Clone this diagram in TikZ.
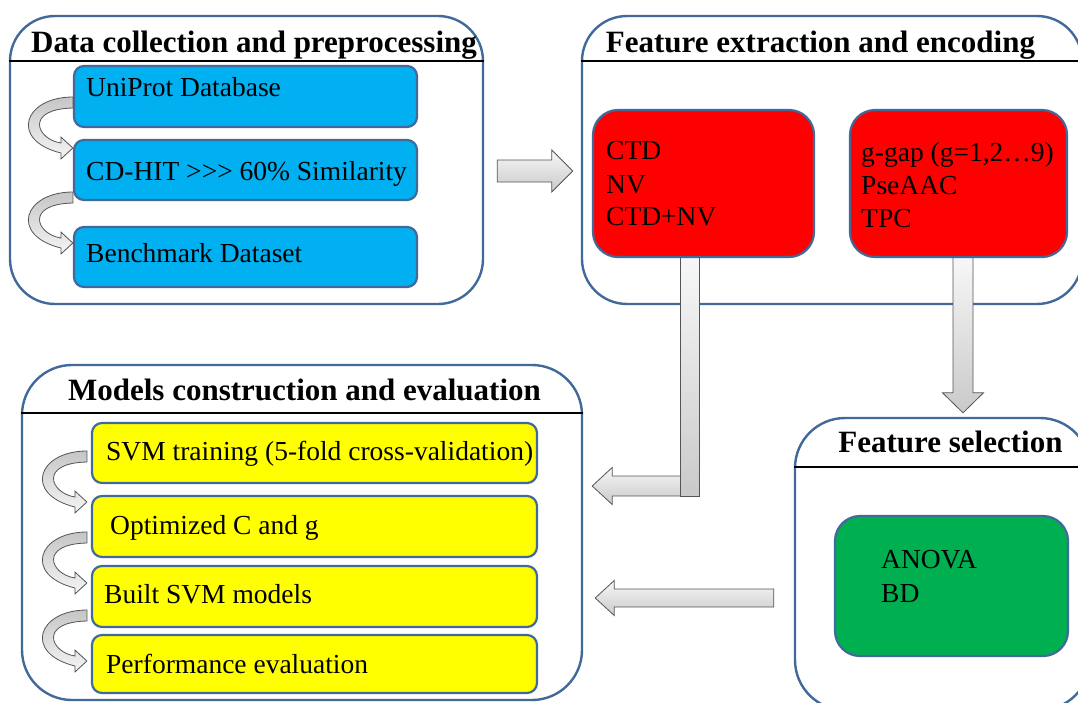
\documentclass[tikz,border=0pt]{standalone}
\usepackage{fontspec}
\setmainfont[Ligatures={NoCommon}]{Liberation Serif}
\usetikzlibrary{calc}
\definecolor{olblue}{HTML}{41699A}
\definecolor{cyanbox}{HTML}{00B0F0}
\definecolor{redbox}{HTML}{FF0000}
\definecolor{yelbox}{HTML}{FFFF00}
\definecolor{grnbox}{HTML}{00B050}
\definecolor{arredge}{HTML}{555555}
\newcommand\curvedarrow[1]{%
  \draw[carrow, shift={(#1)}] (0,0) .. controls (-49,0) and (-64,43) .. (-12,56)
    -- (-12,62) -- (0,51) -- (-12,40) -- (-12,46)
    .. controls (-37,42) and (-48,12) .. (0,11) -- cycle;}
\begin{document}
\begin{tikzpicture}[x=1pt,y=-1pt,
  panel/.style={draw=olblue, line width=2.4pt, rounded corners=45pt, fill=white, inner sep=0pt},
  box/.style={draw=olblue, line width=2.2pt, inner sep=0pt},
  headline/.style={line width=2.6pt, draw=black},
  ttl/.style={font=\fontsize{31}{36}\selectfont\bfseries, anchor=base, inner sep=0pt},
  txt/.style={font=\fontsize{27.5}{32}\selectfont, anchor=base west, inner sep=0pt},
  garrow/.style={draw=arredge, line width=0.8pt, top color=gray!6, bottom color=gray!42},
  carrow/.style={draw=arredge, line width=0.8pt, top color=gray!45, bottom color=gray!8},
]
\useasboundingbox (0,0) rectangle (1078,702);
\clip (0,0) rectangle (1078,702);

% panels
\node[panel, minimum width=473pt, minimum height=288pt] (p1) at (246.5,160) {};
\node[panel, minimum width=500pt, minimum height=288pt] (p2) at (832,160) {};
\node[panel, rounded corners=50pt, minimum width=560pt, minimum height=335pt] (p3) at (302,532.5) {};
\node[panel, rounded corners=50pt, minimum width=295pt, minimum height=292pt] (p4) at (942.5,564) {};

\coordinate (h1) at (0,61);
\coordinate (h3) at (0,413);
\coordinate (h4) at (0,467);
\draw[headline] (p1.west |- h1) -- (p1.east |- h1);
\draw[headline] (p2.west |- h1) -- (p2.east |- h1);
\draw[headline] (p3.west |- h3) -- (p3.east |- h3);
\draw[headline] (p4.west |- h4) -- (p4.east |- h4);

\node[ttl] (t1) at (254,52) {Data collection and preprocessing};
\node[ttl] (t2) at (820.5,52) {Feature extraction and encoding};
\node[ttl] (t3) at (304.5,400) {Models construction and evaluation};
\node[ttl] (t4) at (950.5,452) {Feature selection};

% red box centres (used by the arrows)
\path (703.5,183.5) coordinate (r1c0);
\path (958.5,183.5) coordinate (r2c0);

% arrow p1 -> p2
\coordinate (aAs) at ($(p1.east)+(13,11)$);
\coordinate (aAe) at ($(p2.west)+(-8,11)$);
\draw[garrow] ($(aAs)+(0,-11)$) -- ($(aAe)+(-21,-11)$) -- ($(aAe)+(-21,-21)$) -- (aAe)
  -- ($(aAe)+(-21,21)$) -- ($(aAe)+(-21,11)$) -- ($(aAs)+(0,11)$) -- cycle;

% arrow right red box -> feature selection
\coordinate (aBs) at ($(r2c0)+(4.5,73.5)$);
\coordinate (aBe) at ($(aBs |- p4.north)+(0,-4)$);
\draw[garrow] ($(aBs)+(-10,0)$) -- ($(aBe)+(-10,-20)$) -- ($(aBe)+(-20.5,-20)$) -- (aBe)
  -- ($(aBe)+(20.5,-20)$) -- ($(aBe)+(10,-20)$) -- ($(aBs)+(10,0)$) -- cycle;

% bent arrow left red box -> models
\coordinate (aCs) at ($(r1c0)+(-14,73.5)$);
\coordinate (aCk) at ($(aCs)+(0,229)$);
\coordinate (aCe) at ($(p3.east |- aCk)+(9,0)$);
\draw[garrow] ($(aCk)+(0,-10)$) -- ($(aCe)+(20,-10)$) -- ($(aCe)+(20,-18.5)$) -- (aCe)
  -- ($(aCe)+(20,18.5)$) -- ($(aCe)+(20,10)$) -- ($(aCk)+(0,10)$) -- cycle;
\draw[garrow] ($(aCs)+(-9.5,0)$) rectangle ($(aCk)+(9.5,10)$);

% arrow feature selection -> models
\coordinate (aDs) at ($(p4.west)+(-20,34)$);
\coordinate (aDe) at ($(p3.east |- aDs)+(12,0)$);
\draw[garrow] ($(aDs)+(0,-9)$) -- ($(aDe)+(19,-9)$) -- ($(aDe)+(19,-17.5)$) -- (aDe)
  -- ($(aDe)+(19,17.5)$) -- ($(aDe)+(19,9)$) -- ($(aDs)+(0,9)$) -- cycle;

% boxes
\node[box, fill=cyanbox, rounded corners=10pt, minimum width=343pt, minimum height=61pt] (b1) at (245.5,96.5) {};
\node[box, fill=cyanbox, rounded corners=10pt, minimum width=343pt, minimum height=60pt] (b2) at (245.5,170) {};
\node[box, fill=cyanbox, rounded corners=10pt, minimum width=343pt, minimum height=60pt] (b3) at (245.5,257) {};
\node[box, fill=redbox, rounded corners=25pt, minimum width=221pt, minimum height=147pt] (r1) at (r1c0) {};
\node[box, fill=redbox, rounded corners=25pt, minimum width=217pt, minimum height=147pt] (r2) at (r2c0) {};
\node[box, fill=grnbox, rounded corners=25pt, minimum width=233pt, minimum height=140pt] (g1) at (951.5,586) {};
\node[box, fill=yelbox, rounded corners=10pt, minimum width=445pt, minimum height=60pt] (y1) at (314.5,453) {};
\node[box, fill=yelbox, rounded corners=10pt, minimum width=445pt, minimum height=61pt] (y2) at (314.5,526.5) {};
\node[box, fill=yelbox, rounded corners=10pt, minimum width=445pt, minimum height=61pt] (y3) at (314.5,596.5) {};
\node[box, fill=yelbox, rounded corners=10pt, minimum width=445pt, minimum height=58pt] (y4) at (314.5,664) {};

% curved arrows
\coordinate (cA1) at ($(b1.west)+(0,0.5)$);
\coordinate (cA2) at ($(b2.west)+(0,22)$);
\coordinate (cB1) at ($(y1.west)+(-4,-2)$);
\coordinate (cB2) at ($(y2.west)+(-4,5.5)$);
\coordinate (cB3) at ($(y3.west)+(-4,13.5)$);
\curvedarrow{cA1}
\curvedarrow{cA2}
\curvedarrow{cB1}
\curvedarrow{cB2}
\curvedarrow{cB3}

% texts
\node[txt] (b1t) at (86,96) {UniProt Database};
\node[txt] (b2t) at (86,180) {CD-HIT >{}>{}> 60\% Similarity};
\node[txt] (b3t) at (86,262) {Benchmark Dataset};
\node[txt] (r1a) at (606,159) {CTD};
\node[txt] (r1b) at (606,193) {NV};
\node[txt] (r1d) at (606,225) {CTD+NV};
\node[txt] (r2a) at (861,161) {g-gap (g=1,2…9)};
\node[txt] (r2b) at (861,194) {PseAAC};
\node[txt] (r2d) at (861,227) {TPC};
\node[txt] (g1a) at (881,568) {ANOVA};
\node[txt] (g1b) at (881,602) {BD};
\node[txt] (y1t) at (106,460) {SVM training (5-fold cross-validation)};
\node[txt] (y2t) at (110,534) {Optimized C and g};
\node[txt] (y3t) at (104,603) {Built SVM models};
\node[txt] (y4t) at (106,673) {Performance evaluation};
\end{tikzpicture}
\end{document}
